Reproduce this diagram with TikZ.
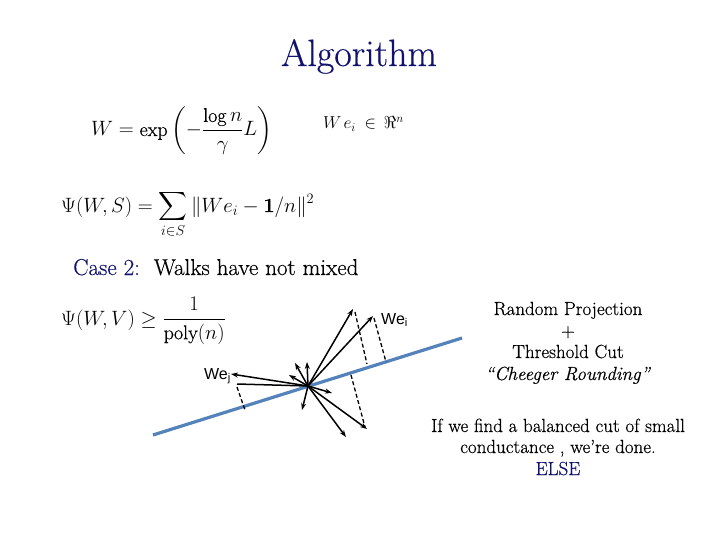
\documentclass[tikz,border=0pt]{standalone}
\usepackage{amsmath,amssymb}
\usepackage{fontspec}
\setmainfont{Latin Modern Roman}[FakeBold=0.45]
\newfontfamily\arialfont{Liberation Sans}
\usetikzlibrary{arrows.meta}
\definecolor{navy}{RGB}{18,18,110}
\definecolor{lineblue}{RGB}{84,130,186}
\begin{document}
\begin{tikzpicture}[x=1pt,y=-1pt,
  mathnode/.style={inner sep=0pt,font=\fontsize{20}{24}\selectfont},
  txt/.style={inner sep=0pt,font=\fontsize{19}{22}\selectfont,anchor=base},
  vec/.style={line width=1.5pt,-{Stealth[length=7pt,width=5pt]}},
  plainvec/.style={line width=1.5pt},
  proj/.style={line width=1.3pt,dash pattern=on 4pt off 2.5pt},
  veclabel/.style={inner sep=0pt,anchor=west,font=\arialfont\fontsize{16}{18}\selectfont}]
\useasboundingbox (0,0) rectangle (720,540);
% title
\node[inner sep=0pt,anchor=base,font=\fontsize{38}{44}\selectfont,text=navy] (title) at (359,66) {Algorithm};
% formulas
\node[mathnode,anchor=base west] (eqW) at (91,136) {$\displaystyle W=\exp\left(-\frac{\log n}{\gamma}L\right)$};
\node[mathnode,font=\fontsize{18}{22}\selectfont,anchor=base west] (eqR) at (323,129) {$W\hspace{2pt}e_i\hspace{4pt}\in\hspace{3pt}\Re^n$};
\node[mathnode,anchor=base west] (eqPsi) at (61,212) {$\displaystyle \Psi(W,S)=\sum_{i\in S}\|We_i-\mathbf{1}/n\|^2$};
\node[inner sep=0pt,anchor=base west,font=\fontsize{23}{27}\selectfont] (case) at (73,275) {\textcolor{navy}{Case 2:}\ \ Walks have not mixed};
\node[mathnode,anchor=base west] (eqV) at (61,325) {$\displaystyle \Psi(W,V)\geq\frac{1}{\mathrm{poly}(n)}$};
% right text
\node[txt] (t1) at (568,315) {Random Projection};
\node[txt] (t2) at (568,337) {+};
\node[txt] (t3) at (568,358) {Threshold Cut};
\node[txt] (t4) at (568,380) {\textit{“Cheeger Rounding”}};
\node[txt] (t5) at (558,432) {If we find a balanced cut of small};
\node[txt] (t6) at (558,453) {conductance , we’re done.};
\node[txt,text=navy] (t7) at (558,475) {ELSE};
% vector diagram
\coordinate (L1) at (153,435);
\coordinate (L2) at (462,338);
\coordinate (O) at (308,386);
\coordinate (a1) at (353,309);
\coordinate (ai) at (373,316);
\coordinate (a3) at (307,362);
\coordinate (a4) at (295,363);
\coordinate (a5) at (289,375);
\coordinate (aj) at (231,374);
\coordinate (a7) at (237,384);
\coordinate (a8) at (332,393);
\coordinate (a9) at (302,410);
\coordinate (a10) at (346,437);
\coordinate (a11) at (367,429);
\coordinate (p1) at (355,312); \coordinate (q1) at (367,364);
\coordinate (p2) at (374,318); \coordinate (q2) at (386,362);
\coordinate (p3) at (351,375); \coordinate (q3) at (365,427);
\coordinate (p4) at (237,387); \coordinate (q4) at (245,410);
\draw[lineblue,line width=3.2pt] (L1) -- (L2);
\foreach \t in {a1,ai,a3,a4,a5,aj,a8,a9,a10,a11}
  \draw[vec] (O) -- (\t);
\draw[plainvec] (O) -- (a7);
\draw[proj] (p1) -- (q1);
\draw[proj] (p2) -- (q2);
\draw[proj] (p3) -- (q3);
\draw[proj] (p4) -- (q4);
\node[veclabel] (Wei) at (381,320) {We\textsubscript{i}};
\node[veclabel,anchor=east] (Wej) at (231,376) {We\textsubscript{j}};
\end{tikzpicture}
\end{document}
